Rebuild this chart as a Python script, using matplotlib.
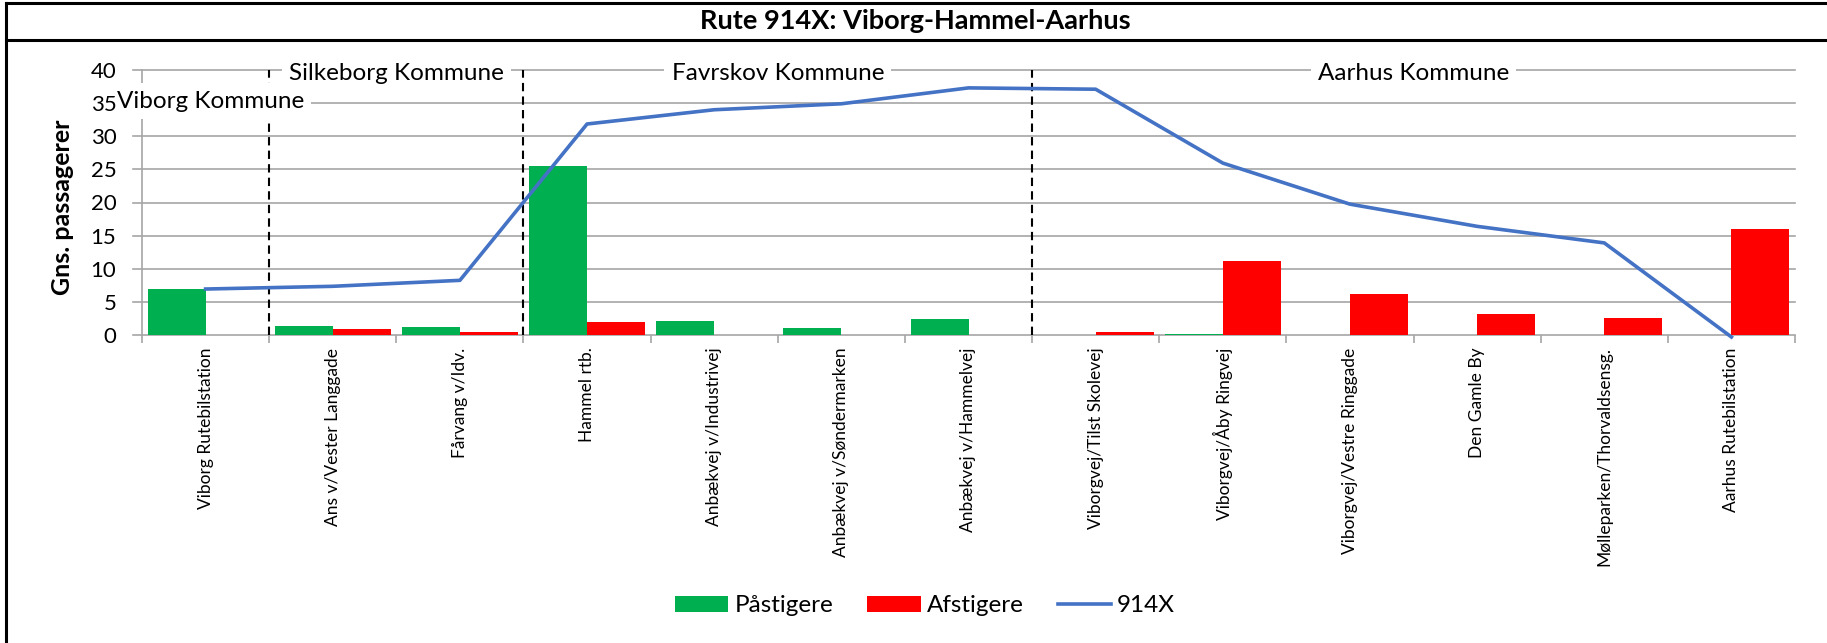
import matplotlib
matplotlib.use("Agg")
import matplotlib.pyplot as plt
import numpy as np
from matplotlib.lines import Line2D
from matplotlib.patches import Patch

# ---------------- data ----------------
stops = ["Viborg Rutebilstation", "Ans v/Vester Langgade", "Fårvang v/Idv.",
         "Hammel rtb.", "Anbækvej v/Industrivej", "Anbækvej v/Søndermarken",
         "Anbækvej v/Hammelvej", "Viborgvej/Tilst Skolevej", "Viborgvej/Åby Ringvej",
         "Viborgvej/Vestre Ringgade", "Den Gamle By", "Mølleparken/Thorvaldsensg.",
         "Aarhus Rutebilstation"]
paastigere = [6.9, 1.4, 1.26, 25.5, 2.15, 1.0, 2.4, 0.0, 0.12, 0.0, 0.0, 0.0, 0.0]
afstigere = [0.0, 0.96, 0.4, 1.96, 0.0, 0.0, 0.0, 0.4, 11.15, 6.24, 3.22, 2.62, 16.0]
load_914x = [6.94, 7.35, 8.25, 31.85, 34.0, 34.9, 37.3, 37.1, 25.95, 19.75, 16.4, 13.9, -0.3]
yticks = [0, 5, 10, 15, 20, 25, 30, 35, 40]
kommuner = ["Viborg Kommune", "Silkeborg Kommune", "Favrskov Kommune", "Aarhus Kommune"]
kommune_x = [-0.697, 1.5, 4.5, 9.5]
kommune_y = [35.3, 39.5, 39.5, 39.5]
kommune_ha = ["left", "center", "center", "center"]
boundaries = [0.5, 2.5, 6.5]
title = "Rute 914X: Viborg-Hammel-Aarhus"
ylabel = "Gns. passagerer"
legend_labels = ["Påstigere", "Afstigere", "914X"]

GREEN = "#00B050"
RED = "#FF0000"
BLUE = "#4472C4"
GRID = "#A6A6A6"
FONT = "Lato"

W, H = 1827, 643
fig = plt.figure(figsize=(W / 100, H / 100), dpi=100)
fig.patch.set_facecolor("white")

L, R, T, B = 142, 1795, 70, 335
ax = fig.add_axes([L / W, 1 - B / H, (R - L) / W, (B - T) / H])

x = np.arange(len(stops))
bw = 0.455
ax.bar(x - bw / 2, paastigere, width=bw, color=GREEN, zorder=3)
ax.bar(x + bw / 2, afstigere, width=bw, color=RED, zorder=3)
ax.plot(x, load_914x, color=BLUE, lw=2.6, zorder=4, clip_on=False,
        solid_joinstyle="round")

ax.set_xlim(-0.5, len(stops) - 0.5)
ax.set_ylim(0, 40)
ax.set_yticks(yticks)
ax.set_yticklabels([str(v) for v in yticks], fontsize=16, family=FONT)
tick_frac = 9 / (R - L)
for v in yticks:
    ax.axhline(v, xmin=-tick_frac, xmax=1, color=GRID, lw=1.2, zorder=0.5, clip_on=False)

for s in ["top", "right", "bottom"]:
    ax.spines[s].set_visible(False)
ax.spines["left"].set_color(GRID)
ax.spines["left"].set_linewidth(1.2)
ax.spines["left"].set_zorder(1)
ax.yaxis.set_zorder(2.6)

ax.tick_params(axis="y", length=0, pad=18.5)
ax.set_xticks(x)
ax.set_xticklabels(stops, rotation=90, fontsize=12.5, family=FONT, va="top")
ax.set_xticks(np.arange(-0.5, len(stops), 1.0), minor=True)
ax.tick_params(axis="x", which="major", length=0, pad=9)
ax.tick_params(axis="x", which="minor", length=6, color=GRID, width=1.2)

fig.text(63 / W, 1 - 207 / H, ylabel, rotation=90, ha="center", va="center",
         fontsize=18, fontweight="bold", family=FONT)

for b in boundaries:
    ax.plot([b, b], [0, 40], color="black", lw=1.5, ls=(0, (4, 2.5)), zorder=2)

for name, kx, ky, ha in zip(kommuner, kommune_x, kommune_y, kommune_ha):
    ax.text(kx, ky, name, ha=ha, va="center", fontsize=17.5, family=FONT,
            zorder=2.4, bbox=dict(boxstyle="square,pad=0.3", fc="white", ec="none"))

# title and frame
fig.text(915 / W, 1 - 21 / H, title, ha="center", va="center", fontsize=19.5,
         fontweight="bold", family=FONT)
lw_frame = 2.2
fig.add_artist(Line2D([6 / W, 1.0], [1 - 3 / H, 1 - 3 / H], transform=fig.transFigure,
                      color="black", lw=lw_frame))
fig.add_artist(Line2D([6 / W, 1.0], [1 - 40 / H, 1 - 40 / H], transform=fig.transFigure,
                      color="black", lw=lw_frame))
fig.add_artist(Line2D([6 / W, 6 / W], [0, 1 - 3 / H], transform=fig.transFigure,
                      color="black", lw=lw_frame))

handles = [Patch(facecolor=GREEN, edgecolor="none"),
           Patch(facecolor=RED, edgecolor="none"),
           Line2D([0], [0], color=BLUE, lw=2.6)]
fig.legend(handles, legend_labels, loc="center", bbox_to_anchor=(925 / W, 1 - 606 / H),
           ncol=3, frameon=False, prop={"family": FONT, "size": 17.5},
           handlelength=2.2, handleheight=0.64, handletextpad=0.25, columnspacing=1.4)

fig.savefig("out.png", dpi=100, facecolor="white")
